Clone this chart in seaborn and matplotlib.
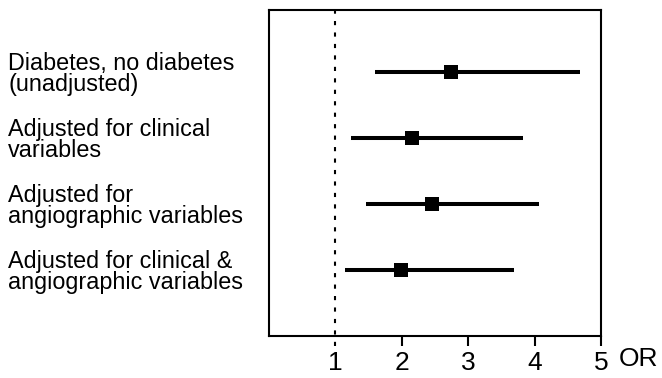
import matplotlib
matplotlib.use("Agg")
import matplotlib.pyplot as plt
import seaborn as sns
import pandas as pd

labels = [
    "Diabetes, no diabetes\n(unadjusted)",
    "Adjusted for clinical\nvariables",
    "Adjusted for\nangiographic variables",
    "Adjusted for clinical &\nangiographic variables",
]
or_vals = [2.74, 2.15, 2.45, 1.99]
ci_low = [1.59, 1.23, 1.46, 1.14]
ci_high = [4.68, 3.82, 4.06, 3.69]
xticks = [1, 2, 3, 4, 5]

sns.set_theme(style="ticks")
plt.rcParams["font.family"] = ["Liberation Sans", "DejaVu Sans"]
plt.rcParams["text.color"] = "black"
plt.rcParams["xtick.color"] = "black"
plt.rcParams["ytick.color"] = "black"
plt.rcParams["xtick.labelcolor"] = "black"
plt.rcParams["ytick.labelcolor"] = "black"

df = pd.DataFrame({"label": labels, "row": range(len(labels)),
                   "OR": or_vals, "lo": ci_low, "hi": ci_high})

fig = plt.figure(figsize=(6.62, 3.78), dpi=100)
W, H = 662, 378
ax = fig.add_axes([269 / W, 1 - 336 / H, (601 - 269) / W, (336 - 10) / H])

ax.hlines(df["row"], df["lo"], df["hi"], color="black", linewidth=2.9, zorder=2)
sns.scatterplot(data=df, x="OR", y="row", marker="s", s=95, color="black",
                edgecolor="black", linewidth=0, zorder=3, ax=ax, legend=False)
ax.axvline(1, ymin=-0.03, ymax=1, color="black", linewidth=1.5,
           linestyle=(0, (2, 3.5)), clip_on=False, zorder=1)

ax.set_xlim(0, 5)
ax.set_ylim(4.0, -0.94)
ax.set_xticks(xticks)
ax.set_xticklabels([str(t) for t in xticks], fontsize=19, color="black")
ax.set_yticks(df["row"])
ax.set_yticklabels(df["label"], fontsize=16.8, ha="left", linespacing=0.9,
                   color="black")
ax.tick_params(axis="y", length=0, pad=261 * 72 / 100)
ax.tick_params(axis="x", direction="out", length=7, width=1.5, pad=4,
               colors="black")
ax.xaxis.get_major_ticks()[0].tick1line.set_visible(False)
ax.set_xlabel("")
ax.set_ylabel("")
for s in ax.spines.values():
    s.set_visible(True)
    s.set_linewidth(1.5)
    s.set_color("black")

fig.text(619 / W, 1 - 347 / H, "OR", fontsize=19, va="top", ha="left",
         color="black")

fig.savefig("out.png", dpi=100)
